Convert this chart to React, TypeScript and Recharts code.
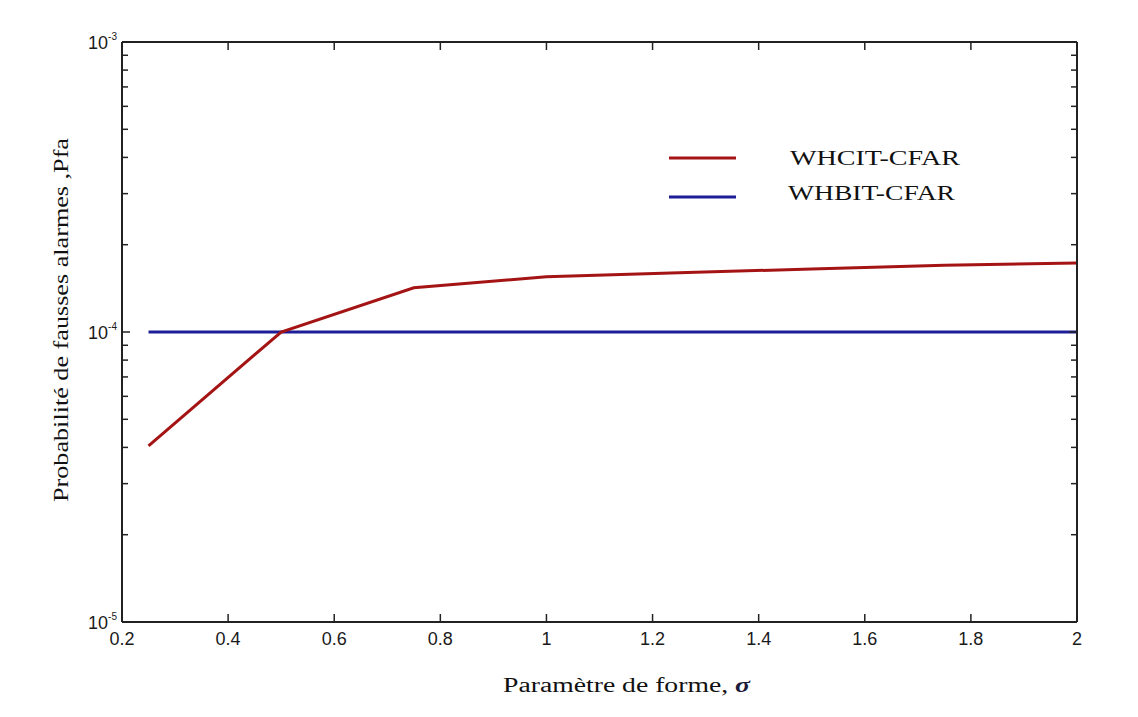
/** Pfa vs shape parameter chart */

import React from 'react';
import { LineChart, Line, XAxis, YAxis } from 'recharts';

const sigmaValues = [0.25, 0.5, 0.75, 1, 1.25, 1.5, 1.75, 2];
const whcitPfa = [4.05e-5, 1.0e-4, 1.42e-4, 1.55e-4, 1.6e-4, 1.65e-4, 1.7e-4, 1.73e-4];
const whbitPfa = [1e-4, 1e-4, 1e-4, 1e-4, 1e-4, 1e-4, 1e-4, 1e-4];

const xTicks = [0.2, 0.4, 0.6, 0.8, 1, 1.2, 1.4, 1.6, 1.8, 2];
const yTicks = [
  1e-5, 2e-5, 3e-5, 4e-5, 5e-5, 6e-5, 7e-5, 8e-5, 9e-5,
  1e-4, 2e-4, 3e-4, 4e-4, 5e-4, 6e-4, 7e-4, 8e-4, 9e-4, 1e-3,
];

const data = sigmaValues.map((s, i) => ({ sigma: s, whcit: whcitPfa[i], whbit: whbitPfa[i] }));

const RED = '#a51414';
const BLUE = '#1d1d98';
const FRAME = '#222';
const SERIF = '"Liberation Serif", "Times New Roman", serif';
const SANS = '"Liberation Sans", Arial, sans-serif';

const isDecade = (v: number) => {
  const l = Math.log10(v);
  return Math.abs(l - Math.round(l)) < 1e-6;
};

function BottomTick({ x, y, payload }: any) {
  return (
    <g>
      <line x1={x} y1={y} x2={x} y2={y - 8} stroke={FRAME} strokeWidth={1.5} />
      <text x={x} y={y + 23} textAnchor="middle" fontFamily={SANS} fontSize={18} fill="#1a1a1a">
        {payload.value}
      </text>
    </g>
  );
}

function TopTick({ x, y }: any) {
  return <line x1={x} y1={y} x2={x} y2={y + 8} stroke={FRAME} strokeWidth={1.5} />;
}

function LeftTick({ x, y, payload }: any) {
  const major = isDecade(payload.value);
  const exp = Math.round(Math.log10(payload.value));
  return (
    <g>
      <line x1={x} y1={y} x2={x + (major ? 8 : 6)} y2={y} stroke={FRAME} strokeWidth={1.5} />
      {major && (
        <text x={x - 5} y={y + 7} textAnchor="end" fontFamily={SANS} fontSize={18} fill="#1a1a1a">
          <tspan>10</tspan>
          <tspan dy={-9} fontSize={10}>{exp}</tspan>
        </text>
      )}
    </g>
  );
}

function RightTick({ x, y, payload }: any) {
  const major = isDecade(payload.value);
  return <line x1={x} y1={y} x2={x - (major ? 8 : 6)} y2={y} stroke={FRAME} strokeWidth={1.5} />;
}

export default function App() {
  return (
    <div style={{ position: 'relative', width: 1122, height: 700, background: '#fff' }}>
      <LineChart width={1122} height={700} data={data} margin={{ top: 33, right: 52, left: 0, bottom: 56 }}>
        <XAxis
          xAxisId="bottom"
          dataKey="sigma"
          type="number"
          domain={[0.2, 2]}
          ticks={xTicks}
          allowDataOverflow
          height={30}
          tickSize={0}
          tickMargin={0}
          tickLine={false}
          axisLine={{ stroke: FRAME, strokeWidth: 2 }}
          tick={<BottomTick />}
          interval={0}
        />
        <XAxis
          xAxisId="top"
          orientation="top"
          dataKey="sigma"
          type="number"
          domain={[0.2, 2]}
          ticks={xTicks}
          allowDataOverflow
          height={1}
          tickSize={0}
          tickMargin={0}
          tickLine={false}
          axisLine={{ stroke: FRAME, strokeWidth: 2 }}
          tick={<TopTick />}
          interval={0}
        />
        <YAxis
          yAxisId="left"
          scale="log"
          type="number"
          domain={[1e-5, 1e-3]}
          ticks={yTicks}
          allowDataOverflow
          width={114}
          tickSize={0}
          tickMargin={0}
          tickLine={false}
          axisLine={{ stroke: FRAME, strokeWidth: 2 }}
          tick={<LeftTick />}
          interval={0}
        />
        <YAxis
          yAxisId="right"
          orientation="right"
          scale="log"
          type="number"
          domain={[1e-5, 1e-3]}
          ticks={yTicks}
          allowDataOverflow
          width={1}
          tickSize={0}
          tickMargin={0}
          tickLine={false}
          axisLine={{ stroke: FRAME, strokeWidth: 2 }}
          tick={<RightTick />}
          interval={0}
        />
        <Line
          xAxisId="bottom"
          yAxisId="left"
          type="linear"
          dataKey="whbit"
          stroke={BLUE}
          strokeWidth={3}
          dot={false}
          isAnimationActive={false}
        />
        <Line
          xAxisId="bottom"
          yAxisId="left"
          type="linear"
          dataKey="whcit"
          stroke={RED}
          strokeWidth={3}
          dot={false}
          isAnimationActive={false}
        />
      </LineChart>
      <svg width={1122} height={700} style={{ position: 'absolute', left: 0, top: 0, pointerEvents: 'none' }}>
        <g transform="translate(661 132)">
          <line x1={0} y1={18} x2={67} y2={18} stroke={RED} strokeWidth={3} />
          <text x={121} y={25} fontFamily={SERIF} fontSize={21} fill="#111" textLength={170} lengthAdjust="spacingAndGlyphs">
            WHCIT-CFAR
          </text>
          <line x1={0} y1={57} x2={67} y2={57} stroke={BLUE} strokeWidth={3} />
          <text x={119} y={60} fontFamily={SERIF} fontSize={21} fill="#111" textLength={167} lengthAdjust="spacingAndGlyphs">
            WHBIT-CFAR
          </text>
        </g>
        <text
          x={0}
          y={0}
          transform="translate(60 312) rotate(-90)"
          textAnchor="middle"
          fontFamily={SERIF}
          fontSize={20}
          fill="#111"
          textLength={364}
          lengthAdjust="spacingAndGlyphs"
        >
          Probabilité de fausses alarmes ,Pfa
        </text>
        <text x={495} y={684} fontFamily={SERIF} fontSize={20} fill="#111" textLength={247} lengthAdjust="spacingAndGlyphs">
          Paramètre de forme, <tspan fontStyle="italic" fontWeight="bold" fill="#1a1a3a">σ</tspan>
        </text>
      </svg>
    </div>
  );
}
